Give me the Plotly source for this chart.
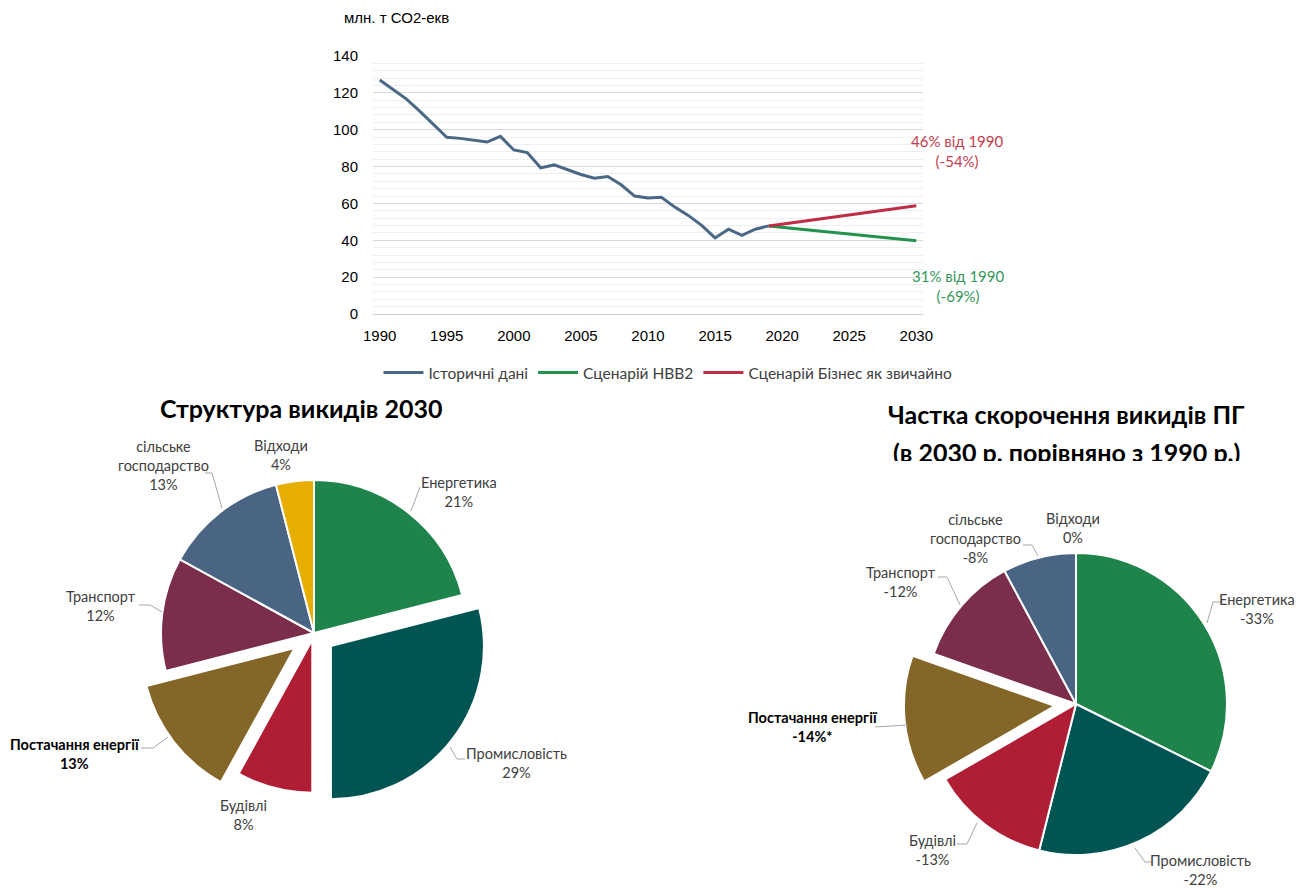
import plotly.graph_objects as go

W, H = 1307, 890

# ---------------- data ----------------
hist_years = list(range(1990, 2020))
hist_values = [127.0, 122.0, 116.6, 109.9, 103.1, 95.9, 95.3, 94.4, 93.3, 96.4,
               89.0, 87.6, 79.3, 80.9, 78.4, 75.7, 73.7, 74.6, 70.1, 64.0,
               62.9, 63.3, 58.0, 53.5, 48.1, 41.3, 46.0, 42.7, 46.0, 47.8]
scen_years = [2019, 2030]
hbb2_values = [47.8, 39.7]
bau_values = [47.8, 58.7]
x_ticks = [1990, 1995, 2000, 2005, 2010, 2015, 2020, 2025, 2030]
y_ticks = [0, 20, 40, 60, 80, 100, 120, 140]

sectors = ["Енергетика", "Промисловість", "Будівлі", "Постачання енергії",
           "Транспорт", "сільське<br>господарство", "Відходи"]
structure_2030 = [21, 29, 8, 13, 12, 13, 4]
structure_pull = [0, 0.14, 0.045, 0.16, 0, 0, 0]
reduction_values = [33, 22, 13, 14, 12, 8, 0]
reduction_labels = ["-33%", "-22%", "-13%", "-14%*", "-12%", "-8%", "0%"]
reduction_pull = [0, 0, 0, 0.14, 0, 0, 0]

sector_colors = ["#1E844B", "#005553", "#B01E36", "#846628",
                 "#7A2E4B", "#4A6583", "#E6AE00"]

C_HIST = "#4A6785"
C_GREEN = "#23924F"
C_RED = "#BF2C44"

CAL = "Lato, 'Open Sans', sans-serif"
ARI = "'Liberation Sans', Arial, sans-serif"


def px(x):
    return x / W


def py(y):
    return 1 - y / H


fig = go.Figure()

# ---------------- line chart ----------------
fig.add_trace(go.Scatter(x=hist_years, y=hist_values, mode="lines",
                         name="Історичні дані",
                         line=dict(color=C_HIST, width=3)))
fig.add_trace(go.Scatter(x=scen_years, y=hbb2_values, mode="lines",
                         name="Сценарій НВВ2",
                         line=dict(color=C_GREEN, width=3)))
fig.add_trace(go.Scatter(x=scen_years, y=bau_values, mode="lines",
                         name="Сценарій Бізнес як звичайно",
                         line=dict(color=C_RED, width=3)))

# ---------------- pies ----------------
def pie_domain(cx, cy, r, maxpull):
    half = r * (1 + maxpull)
    return dict(x=[(cx - half) / W, (cx + half) / W],
                y=[1 - (cy + half) / H, 1 - (cy - half) / H])


fig.add_trace(go.Pie(labels=sectors, values=structure_2030, pull=structure_pull,
                     sort=False, direction="clockwise", rotation=0,
                     marker=dict(colors=sector_colors, line=dict(color="white", width=2)),
                     textinfo="none", hoverinfo="label+percent", showlegend=False,
                     domain=pie_domain(314, 633, 153, max(structure_pull))))

fig.add_trace(go.Pie(labels=sectors, values=reduction_values, pull=reduction_pull,
                     sort=False, direction="clockwise", rotation=0,
                     marker=dict(colors=sector_colors, line=dict(color="white", width=2)),
                     textinfo="none", hoverinfo="label", showlegend=False,
                     domain=pie_domain(1076, 704, 151, max(reduction_pull))))

annotations = []


def ann(text, x, y, size=14.5, color="#404040", family=CAL, bold=False, xanchor="center"):
    t = f"<b>{text}</b>" if bold else text
    annotations.append(dict(text=t, x=px(x), y=py(y), xref="paper", yref="paper",
                            showarrow=False, xanchor=xanchor, yanchor="middle",
                            font=dict(size=size, color=color, family=family)))


# line chart texts
ann("млн. т СО2-екв", 396, 17, size=15, color="#000000", family=ARI)
ann("46% від 1990<br>(-54%)", 957, 151, size=15, color="#C43C4E")
ann("31% від 1990<br>(-69%)", 959, 286, size=15, color="#34975A")

# titles
ann("Структура викидів 2030", 301, 408, size=25, color="#000000", bold=True)
ann("Частка скорочення викидів ПГ", 1066, 414, size=25, color="#000000", bold=True)
ann("(в 2030 р. порівняно з 1990 р.)", 1066, 452, size=25, color="#000000", bold=True)
# the second title line is cut off at the bottom in the original
annotations.append(dict(text="", x=px(1066), y=py(461), xref="paper", yref="paper",
                        showarrow=False, xanchor="center", yanchor="top",
                        width=440, height=16, bgcolor="white", borderwidth=0))

# left pie labels
left_pos = [(459, 492), (516, 763), (243, 815), (75, 754), (101, 606), (163, 465), (281, 455)]
for i, (x, y) in enumerate(left_pos):
    bold = sectors[i] == "Постачання енергії"
    ann(f"{sectors[i]}<br>{structure_2030[i]}%", x, y,
        color="#000000" if bold else "#404040", bold=bold)

# right pie labels
right_pos = [(1257, 609), (1200, 870), (932, 850), (813, 727), (901, 582), (975, 538), (1073, 528)]
for i, (x, y) in enumerate(right_pos):
    bold = sectors[i] == "Постачання енергії"
    ann(f"{sectors[i]}<br>{reduction_labels[i]}", x, y,
        color="#000000" if bold else "#404040", bold=bold)

# leader lines
leaders = [
    [(205, 473), (212, 473), (222, 508)],
    [(420, 487), (411, 511)],
    [(139, 605), (150, 605), (162, 612)],
    [(141, 748), (153, 748), (168, 737)],
    [(465, 759), (457, 759), (450, 747)],
    [(1023, 545), (1032, 545), (1038, 556)],
    [(938, 577), (947, 577), (960, 605)],
    [(1223, 602), (1213, 602), (1207, 623)],
    [(957, 844), (967, 844), (977, 823)],
    [(875, 727), (908, 725)],
    [(1152, 862), (1145, 862), (1135, 848)],
]
shapes = []
for pts in leaders:
    path = "M " + " L ".join(f"{px(x):.5f},{py(y):.5f}" for x, y in pts)
    shapes.append(dict(type="path", path=path, xref="paper", yref="paper",
                       line=dict(color="#A6A6A6", width=1)))

fig.update_layout(
    width=W, height=H,
    margin=dict(l=0, r=0, t=0, b=0, autoexpand=False),
    paper_bgcolor="white", plot_bgcolor="white",
    showlegend=True,
    legend=dict(orientation="h", x=px(668), xanchor="center", y=py(373), yanchor="middle",
                font=dict(size=15.5, family=CAL, color="#404040"),
                itemwidth=40, tracegroupgap=0),
    xaxis=dict(domain=[px(373), px(923)], range=[1989.5, 2030.5],
               tickvals=x_ticks, showgrid=False, zeroline=False,
               showline=True, linecolor="#D0D0D0", linewidth=1,
               ticks="", ticklabelstandoff=8,
               tickfont=dict(size=15, family=ARI, color="#000000")),
    yaxis=dict(domain=[py(314), py(56)], range=[0, 140],
               tickvals=y_ticks, showgrid=True, gridcolor="#D9D9D9", gridwidth=1,
               zeroline=False, showline=False, ticks="", ticklabelstandoff=14,
               minor=dict(dtick=4, showgrid=True, gridcolor="#EFEFEF", gridwidth=1),
               tickfont=dict(size=15, family=ARI, color="#000000")),
    annotations=annotations,
    shapes=shapes,
)

fig.write_html("out.html",
               config={"displayModeBar": False},
               post_script="document.body.style.margin='0';document.body.style.overflow='hidden';")
